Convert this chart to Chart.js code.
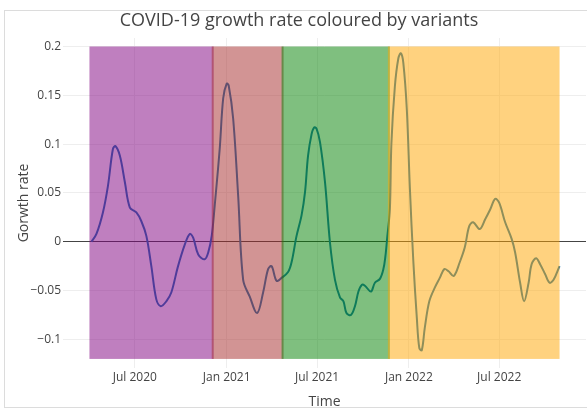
<!DOCTYPE html>
<html><head><meta charset="utf-8">
<script src="https://cdn.jsdelivr.net/npm/chart.js@4/dist/chart.umd.min.js"></script>
<style>html,body{margin:0;padding:0;background:#fff;}canvas{display:block;}</style>
</head><body>
<canvas id="c" width="587" height="409"></canvas>
<script>
const titleText = 'COVID-19 growth rate coloured by variants';
const xTitle = 'Time';
const yTitle = 'Gorwth rate';

const dates = [
 '2020-04-05','2020-04-15','2020-04-28','2020-05-08','2020-05-18','2020-05-23','2020-06-01','2020-06-11','2020-06-21','2020-07-04',
 '2020-07-14','2020-07-24','2020-08-03','2020-08-13','2020-08-22','2020-09-02','2020-09-12','2020-09-25','2020-10-09','2020-10-19',
 '2020-10-26','2020-11-05','2020-11-18','2020-11-25','2020-12-02','2020-12-08','2020-12-18','2020-12-25','2021-01-01','2021-01-05',
 '2021-01-14','2021-01-24','2021-02-03','2021-02-16','2021-03-03','2021-03-15','2021-03-25','2021-04-01','2021-04-11','2021-04-21',
 '2021-05-04','2021-05-11','2021-05-21','2021-05-31','2021-06-07','2021-06-13','2021-06-20','2021-06-25','2021-06-30','2021-07-07',
 '2021-07-17','2021-07-27','2021-08-06','2021-08-16','2021-08-23','2021-08-29','2021-09-07','2021-09-15','2021-09-22','2021-09-29',
 '2021-10-05','2021-10-17','2021-10-25','2021-11-04','2021-11-11','2021-11-15','2021-11-19','2021-11-24','2021-11-27','2021-12-04',
 '2021-12-11','2021-12-16','2021-12-21','2021-12-28','2022-01-03','2022-01-10','2022-01-17','2022-01-22','2022-01-27','2022-02-02',
 '2022-02-11','2022-02-22','2022-03-04','2022-03-13','2022-03-21','2022-04-01','2022-04-13','2022-04-23','2022-05-02','2022-05-10',
 '2022-05-23','2022-06-03','2022-06-13','2022-06-23','2022-07-01','2022-07-13','2022-07-26','2022-08-02','2022-08-12','2022-08-20',
 '2022-08-29','2022-09-04','2022-09-13','2022-09-21','2022-10-01','2022-10-10','2022-10-18','2022-10-30'
];
const growth = [
 0.000, 0.008, 0.030, 0.057, 0.095, 0.098, 0.088, 0.061, 0.035, 0.030,
 0.021, 0.006, -0.025, -0.059, -0.066, -0.061, -0.052, -0.026, -0.003, 0.008,
 0.004, -0.013, -0.018, -0.011, 0.006, 0.037, 0.095, 0.147, 0.162, 0.160,
 0.126, 0.047, -0.039, -0.056, -0.073, -0.052, -0.028, -0.025, -0.040, -0.037,
 -0.031, -0.021, 0.006, 0.027, 0.051, 0.088, 0.110, 0.117, 0.116, 0.102,
 0.061, -0.001, -0.039, -0.057, -0.061, -0.073, -0.075, -0.066, -0.051, -0.044,
 -0.045, -0.051, -0.042, -0.038, -0.028, -0.015, 0.006, 0.033, 0.100, 0.159,
 0.188, 0.193, 0.183, 0.135, 0.056, -0.020, -0.078, -0.109, -0.111, -0.088,
 -0.061, -0.047, -0.037, -0.028, -0.030, -0.035, -0.021, -0.006, 0.016, 0.020,
 0.013, 0.023, 0.033, 0.044, 0.040, 0.020, 0.003, -0.011, -0.042, -0.061,
 -0.042, -0.023, -0.017, -0.023, -0.033, -0.042, -0.039, -0.025
];

const variantNames = ['Original', 'Alpha', 'Delta', 'Omicron'];
const variantStart = ['2020-04-01', '2020-12-02', '2021-04-21', '2021-11-20'];
const variantEnd   = ['2020-12-06', '2021-04-25', '2021-11-24', '2022-10-30'];
const variantColors = ['purple', 'brown', 'green', 'orange'];
const shadeLow = -0.12, shadeHigh = 0.2;

const yTicks = [-0.1, -0.05, 0, 0.05, 0.1, 0.15, 0.2];
const xTickDates = ['2020-07-01', '2021-01-01', '2021-07-01', '2022-01-01', '2022-07-01'];
const xTickLabels = ['Jul 2020', 'Jan 2021', 'Jul 2021', 'Jan 2022', 'Jul 2022'];
const xRange = ['2020-02-08', '2022-12-22'];
const yRange = [-0.1293, 0.2087];

const t = s => Date.parse(s + 'T00:00:00Z');
const FONT = '"Open Sans", sans-serif';
const INK = '#444';

const variantShading = {
  id: 'variantShading',
  afterDatasetsDraw(chart) {
    const {ctx, chartArea: a, scales: {x, y}} = chart;
    ctx.save();
    ctx.beginPath(); ctx.rect(a.left, a.top, a.width, a.height); ctx.clip();
    ctx.globalAlpha = 0.5;
    variantStart.forEach((s, i) => {
      const x0 = x.getPixelForValue(t(s)), x1 = x.getPixelForValue(t(variantEnd[i]));
      const y0 = y.getPixelForValue(shadeHigh), y1 = y.getPixelForValue(shadeLow);
      ctx.fillStyle = variantColors[i];
      ctx.fillRect(x0, y0, x1 - x0, y1 - y0);
    });
    ctx.restore();
  }
};
const frame = {
  id: 'frame',
  beforeDraw(chart) {
    const ctx = chart.ctx;
    ctx.save();
    ctx.strokeStyle = '#dcdcdc'; ctx.lineWidth = 1;
    ctx.strokeRect(4.5, 10.5, 640, 397);
    ctx.restore();
  }
};

new Chart(document.getElementById('c'), {
  type: 'line',
  data: {
    datasets: [{
      label: 'growth rate',
      data: dates.map((d, i) => ({x: t(d), y: growth[i]})),
      borderColor: '#1f77b4',
      borderWidth: 2,
      pointRadius: 0,
      tension: 0.35,
      fill: false
    }]
  },
  options: {
    responsive: false,
    animation: false,
    layout: {padding: {left: 12, right: 1, top: 0, bottom: 0}},
    plugins: {
      legend: {display: false},
      tooltip: {enabled: false},
      title: {
        display: true, text: titleText, color: INK,
        font: {family: FONT, size: 18, weight: 'normal', lineHeight: 1.2},
        padding: {top: 10.5, bottom: 5.9}
      }
    },
    scales: {
      x: {
        type: 'linear',
        min: t(xRange[0]), max: t(xRange[1]),
        afterBuildTicks: s => { s.ticks = xTickDates.map(d => ({value: t(d)})); },
        afterFit: s => { s.height = 41; },
        ticks: {
          callback: (v, i) => xTickLabels[i],
          color: INK, font: {family: FONT, size: 12}, padding: 2,
          maxRotation: 0, autoSkip: false
        },
        grid: {color: '#eeeeee', drawTicks: false},
        border: {display: false},
        title: {display: true, text: xTitle, color: INK,
          font: {family: FONT, size: 14, lineHeight: 1}, padding: {top: 0, bottom: 0}}
      },
      y: {
        min: yRange[0], max: yRange[1],
        afterBuildTicks: s => { s.ticks = yTicks.map(v => ({value: v})); },
        afterFit: s => { s.width = 51; },
        ticks: {
          callback: v => v === 0 ? '0' : String(v).replace('-', '\u2212'),
          color: INK, font: {family: FONT, size: 12}, padding: 2
        },
        grid: {
          color: c => (c.tick && c.tick.value === 0) ? '#444444' : '#eeeeee',
          drawTicks: false
        },
        border: {display: false},
        title: {display: true, text: yTitle, color: INK,
          font: {family: FONT, size: 14, lineHeight: 1}, padding: {top: 5, bottom: 0}}
      }
    }
  },
  plugins: [frame, variantShading]
});
</script>
</body></html>
